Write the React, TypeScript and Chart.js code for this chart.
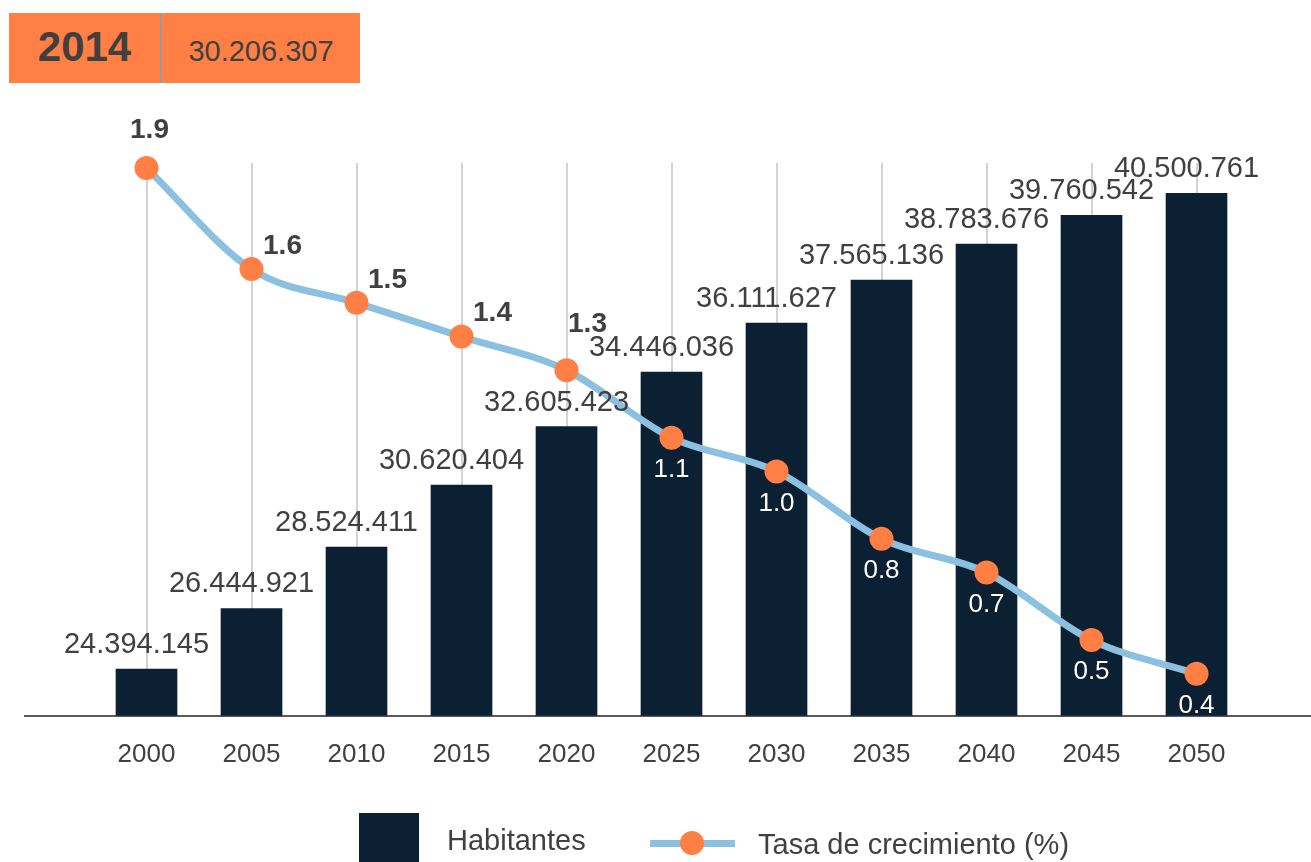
import React, { useEffect, useRef } from 'react';
import { Chart, registerables } from 'chart.js';

Chart.register(...registerables);

const FONT = '"Liberation Sans", Arial, Helvetica, sans-serif';

// ---- data ----
const years = [2000, 2005, 2010, 2015, 2020, 2025, 2030, 2035, 2040, 2045, 2050];
const habitantes = [
  24394145, 26444921, 28524411, 30620404, 32605423, 34446036,
  36111627, 37565136, 38783676, 39760542, 40500761,
];
const tasa = [1.9, 1.6, 1.5, 1.4, 1.3, 1.1, 1.0, 0.8, 0.7, 0.5, 0.4];
const highlightYear = '2014';
const highlightValue = '30.206.307';
const seriesNames = ['Habitantes', 'Tasa de crecimiento (%)'];

// ---- styles ----
const BAR_COLOR = '#0c2033';
const LINE_COLOR = '#8cc0e0';
const POINT_COLOR = '#ff7f45';
const TEXT_COLOR = '#404040';

const fmt = (n: number) => n.toString().replace(/\B(?=(\d{3})+(?!\d))/g, '.');

const labelPlugin = {
  id: 'valueLabels',
  afterDatasetsDraw(chart: any) {
    const ctx = chart.ctx;
    ctx.save();
    ctx.textAlign = 'center';
    ctx.textBaseline = 'middle';
    const barMeta = chart.getDatasetMeta(0);
    ctx.font = `29px ${FONT}`;
    ctx.fillStyle = TEXT_COLOR;
    barMeta.data.forEach((bar: any, i: number) => {
      ctx.fillText(fmt(habitantes[i]), bar.x - 10, bar.y - 24);
    });
    const lineMeta = chart.getDatasetMeta(1);
    lineMeta.data.forEach((pt: any, i: number) => {
      const txt = tasa[i].toFixed(1);
      if (i < 5) {
        ctx.font = `bold 28px ${FONT}`;
        ctx.fillStyle = TEXT_COLOR;
        if (i === 0) ctx.fillText(txt, pt.x + 3, pt.y - 38);
        else if (i === 4) ctx.fillText(txt, pt.x + 21, pt.y - 46);
        else ctx.fillText(txt, pt.x + 31, pt.y - 23);
      } else {
        ctx.font = `26px ${FONT}`;
        ctx.fillStyle = '#ffffff';
        ctx.fillText(txt, pt.x, pt.y + 32);
      }
    });
    ctx.restore();
  },
};

export default function App() {
  const ref = useRef<HTMLCanvasElement | null>(null);

  useEffect(() => {
    if (!ref.current) return;
    const chart = new Chart(ref.current, {
      type: 'bar',
      data: {
        datasets: [
          {
            type: 'bar',
            label: seriesNames[0],
            data: years.map((y, i) => ({ x: y, y: habitantes[i] })),
            backgroundColor: BAR_COLOR,
            barThickness: 61,
            yAxisID: 'y',
            order: 1,
          } as any,
          {
            type: 'line',
            label: seriesNames[1],
            data: years.map((y, i) => ({ x: y, y: tasa[i] })),
            borderColor: LINE_COLOR,
            borderWidth: 7,
            cubicInterpolationMode: 'monotone',
            pointRadius: 12,
            pointBorderWidth: 0,
            pointBackgroundColor: POINT_COLOR,
            yAxisID: 'y1',
            clip: false,
            order: 0,
          } as any,
        ],
      },
      options: {
        responsive: false,
        animation: false,
        devicePixelRatio: 1,
        layout: { padding: { left: 25, right: 0, top: 163, bottom: 69 }, autoPadding: false },
        plugins: { legend: { display: false }, tooltip: { enabled: false } },
        scales: {
          x: {
            type: 'linear',
            min: 1994.214,
            max: 2055.452,
            offset: false,
            afterBuildTicks: (scale: any) => {
              scale.ticks = years.map((v) => ({ value: v }));
            },
            grid: { display: true, offset: false, color: '#d3d3d3', lineWidth: 2, drawTicks: false },
            border: { display: true, color: '#5a5a5a', width: 2 },
            ticks: {
              autoSkip: false,
              maxRotation: 0,
              padding: 23,
              color: TEXT_COLOR,
              font: { family: FONT, size: 26 },
              callback: (v: any) => String(v),
            },
          },
          y: {
            display: false,
            min: 22810000,
            max: 41530000,
          },
          y1: {
            display: false,
            min: 0.2753,
            max: 1.9147,
          },
        },
      } as any,
      plugins: [labelPlugin],
    });
    return () => chart.destroy();
  }, []);

  return (
    <div
      style={{
        position: 'absolute',
        left: 0,
        top: 0,
        width: 1311,
        height: 862,
        overflow: 'hidden',
        background: '#fff',
        fontFamily: FONT,
        color: TEXT_COLOR,
      }}
    >
      <canvas ref={ref} width={1311} height={862} style={{ position: 'absolute', left: 0, top: 0, width: 1311, height: 862 }} />
      {/* highlight box */}
      <div style={{ position: 'absolute', left: 9, top: 13, width: 351, height: 70, background: POINT_COLOR, display: 'flex' }}>
        <div style={{ width: 151, height: 70, display: 'flex', alignItems: 'center', justifyContent: 'center', fontWeight: 'bold', fontSize: 42, paddingBottom: 2, boxSizing: 'border-box' }}>
          {highlightYear}
        </div>
        <div style={{ width: 2, height: 70, background: '#9a9a9a' }} />
        <div style={{ width: 198, height: 70, display: 'flex', alignItems: 'center', justifyContent: 'center', fontSize: 29, paddingTop: 6, boxSizing: 'border-box' }}>
          {highlightValue}
        </div>
      </div>
      {/* legend */}
      <div style={{ position: 'absolute', left: 359, top: 813, width: 60, height: 60, background: BAR_COLOR }} />
      <div style={{ position: 'absolute', left: 447, top: 822, fontSize: 29, lineHeight: '36px' }}>{seriesNames[0]}</div>
      <div style={{ position: 'absolute', left: 650, top: 840, width: 85, height: 7, background: LINE_COLOR }} />
      <div style={{ position: 'absolute', left: 680, top: 831, width: 24, height: 24, borderRadius: 12, background: POINT_COLOR }} />
      <div style={{ position: 'absolute', left: 758, top: 826, fontSize: 29, lineHeight: '36px' }}>{seriesNames[1]}</div>
    </div>
  );
}
